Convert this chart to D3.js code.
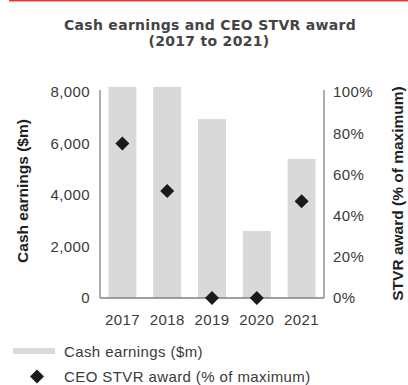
<!DOCTYPE html>
<html>
<head>
<meta charset="utf-8">
<script src="https://cdn.jsdelivr.net/npm/d3@7"></script>
<style>
  html, body { margin: 0; padding: 0; background: #fff; }
  svg { display: block; }
</style>
</head>
<body>
<svg id="chart" width="408" height="385"></svg>
<script>
// Cash earnings and CEO short-term variable reward outcomes, 2017-2021
const years = ["2017", "2018", "2019", "2020", "2021"];
const cashEarnings = [8200, 8200, 6950, 2600, 5400];      // $m
const stvrAward = [75, 52, 0, 0, 47];                      // % of maximum
const leftTicks = [0, 2000, 4000, 6000, 8000];
const rightTicks = [0, 20, 40, 60, 80, 100];

const svg = d3.select("#chart");
const textFont = "'Liberation Sans', Arial, sans-serif";
const titleFont = "'DejaVu Sans', 'Open Sans', sans-serif";
const textColor = "#3a3a3a";
const axisColor = "#808080";

const x0 = 100, x1 = 324, yBottom = 298, yScaleTop = 92, yLineTop = 90;

const x = d3.scaleBand().domain(years).range([x0, x1])
  .paddingInner(0.375).paddingOuter(0.1875);
const yLeft = d3.scaleLinear().domain([0, 8000]).range([yBottom, yScaleTop]);
const yRight = d3.scaleLinear().domain([0, 100]).range([yBottom, yScaleTop]);

// red rule across the top
svg.append("line").attr("x1", 9).attr("x2", 408).attr("y1", 0.5).attr("y2", 0.5)
  .attr("stroke", "#e8382e").attr("stroke-width", 2);

// title
const title = svg.append("text").attr("text-anchor", "middle")
  .attr("font-family", titleFont).attr("font-weight", 700)
  .attr("font-size", 14).attr("letter-spacing", 0.3).attr("fill", "#444");
title.append("tspan").attr("x", 210).attr("y", 30).text("Cash earnings and CEO STVR award");
title.append("tspan").attr("x", 209).attr("y", 46).text("(2017 to 2021)");

// bars
svg.append("g").selectAll("rect").data(years).join("rect")
  .attr("x", d => x(d))
  .attr("width", x.bandwidth())
  .attr("y", (d, i) => yLeft(cashEarnings[i]))
  .attr("height", (d, i) => yBottom - yLeft(cashEarnings[i]))
  .attr("fill", "#d9d9d9");

// axes (tick labels only; axis lines drawn below)
const leftAxis = svg.append("g").attr("transform", `translate(${x0},0)`)
  .call(d3.axisLeft(yLeft).tickValues(leftTicks).tickFormat(d3.format(",")).tickSize(0).tickPadding(10));
const rightAxis = svg.append("g").attr("transform", `translate(${x1},0)`)
  .call(d3.axisRight(yRight).tickValues(rightTicks).tickFormat(d => d + "%").tickSize(0).tickPadding(9));
const bottomAxis = svg.append("g").attr("transform", `translate(0,${yBottom})`)
  .call(d3.axisBottom(x).tickSize(0).tickPadding(16.5));

[leftAxis, rightAxis, bottomAxis].forEach(g => {
  g.select(".domain").remove();
  g.selectAll("text").attr("font-family", textFont).attr("font-size", 15)
    .attr("letter-spacing", 0.4).attr("fill", textColor);
});

// axis lines
const axisLines = svg.append("g").attr("stroke", axisColor).attr("stroke-width", 1.3);
axisLines.append("line").attr("x1", x0).attr("x2", x0).attr("y1", yLineTop).attr("y2", yBottom);
axisLines.append("line").attr("x1", x1).attr("x2", x1).attr("y1", yLineTop).attr("y2", yBottom);
axisLines.append("line").attr("x1", x0).attr("x2", x1).attr("y1", yBottom).attr("y2", yBottom);

// diamonds for STVR award
const diamond = d3.symbol().type(d3.symbolSquare).size(98);
svg.append("g").selectAll("path").data(years).join("path")
  .attr("d", diamond)
  .attr("transform", (d, i) => `translate(${x(d) + x.bandwidth() / 2},${yRight(stvrAward[i])}) rotate(45)`)
  .attr("fill", "#1a1a1a");

// axis titles
svg.append("text").attr("transform", "translate(27.5,191) rotate(-90)")
  .attr("text-anchor", "middle").attr("font-family", textFont).attr("font-weight", 700)
  .attr("font-size", 15.5).attr("fill", "#1f1f1f").text("Cash earnings ($m)");
svg.append("text").attr("transform", "translate(403,193.5) rotate(-90)")
  .attr("text-anchor", "middle").attr("font-family", textFont).attr("font-weight", 700)
  .attr("font-size", 15.5).attr("fill", "#1f1f1f").text("STVR award (% of maximum)");

// legend
svg.append("rect").attr("x", 13).attr("y", 348).attr("width", 42).attr("height", 6).attr("fill", "#d9d9d9");
svg.append("text").attr("x", 64).attr("y", 357).attr("font-family", textFont)
  .attr("font-size", 15).attr("letter-spacing", 0.4).attr("fill", textColor).text("Cash earnings ($m)");
svg.append("path").attr("d", diamond).attr("fill", "#1a1a1a")
  .attr("transform", "translate(37,376.5) rotate(45)");
svg.append("text").attr("x", 64).attr("y", 381.5).attr("font-family", textFont)
  .attr("font-size", 15).attr("letter-spacing", 0.4).attr("fill", textColor).text("CEO STVR award (% of maximum)");
</script>
</body>
</html>
